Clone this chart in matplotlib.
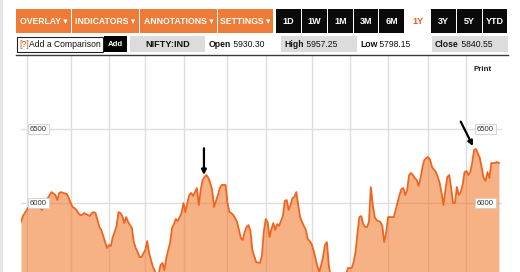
import matplotlib
matplotlib.use("Agg")
import matplotlib.pyplot as plt
from matplotlib.patches import Rectangle
import matplotlib.transforms as mtransforms

plt.rcParams['font.family'] = ['Liberation Sans', 'DejaVu Sans']

# ---- data: trading-session index and NIFTY close ----
days = [0, 1, 2, 4, 5, 6, 7, 8, 10, 11, 12, 14, 15, 16, 18, 19, 20, 21, 22, 24,
        25, 26, 27, 28, 29, 30, 31, 32, 33, 35, 36, 37, 38, 39, 40, 41, 42, 43, 45, 46,
        47, 48, 49, 50, 51, 52, 53, 54, 55, 56, 58, 59, 60, 61, 62, 63, 65, 66, 67, 69,
        70, 71, 72, 73, 74, 75, 76, 77, 78, 79, 80, 81, 82, 84, 85, 86, 87, 88, 89, 90,
        92, 93, 94, 95, 96, 97, 98, 99, 100, 101, 103, 104, 105, 107, 108, 109, 110, 111, 112, 113,
        114, 115, 116, 117, 118, 119, 120, 121, 122, 123, 125, 126, 127, 128, 129, 130, 131, 132, 133, 134,
        135, 137, 138, 139, 140, 141, 142, 143, 144, 145, 146, 147, 149, 150, 151, 152, 153, 154, 155, 156,
        157, 158, 159, 160, 161, 163, 165, 167, 169, 171, 173, 174, 175, 176, 177, 178, 179, 180, 181, 182,
        183, 184, 185, 186, 187, 188, 189, 190, 191, 192, 194, 195, 196, 197, 198, 199, 200, 201, 202, 203,
        204, 205, 206, 207, 208, 209, 210, 211, 212, 213, 214, 215, 217, 218, 219, 220, 221, 222, 223, 224,
        225, 226, 227, 228, 229, 230, 231, 232, 233, 234, 235, 236, 237, 238, 240, 241, 242, 243, 244, 245,
        246, 248, 249, 250]
close = [5872, 5912, 5932, 5973, 5993, 5986, 5980, 5973, 5966, 5953, 5993, 6034, 6054, 6074, 6054, 6020, 6068, 6074, 6068, 6061,
         6034, 6000, 5973, 5966, 5953, 5932, 5919, 5919, 5932, 5919, 5912, 5932, 5939, 5932, 5885, 5838, 5818, 5777, 5696, 5716,
         5709, 5770, 5804, 5845, 5939, 5932, 5912, 5865, 5905, 5872, 5831, 5736, 5696, 5669, 5635, 5635, 5682, 5743, 5662, 5568,
         5541, 5507, 5520, 5581, 5595, 5547, 5628, 5682, 5730, 5831, 5858, 5892, 5878, 5932, 6000, 5939, 6000, 6054, 6068, 6047,
         6101, 5986, 6088, 6155, 6176, 6189, 6169, 6135, 6088, 5973, 6054, 6101, 6122, 6122, 6000, 5939, 5932, 5919, 5899, 5872,
         5818, 5764, 5750, 5804, 5838, 5851, 5811, 5682, 5642, 5601, 5595, 5642, 5804, 5892, 5872, 5770, 5824, 5865, 5818, 5858,
         5845, 5912, 6014, 6020, 5953, 5986, 6034, 6041, 6074, 5986, 5905, 5872, 5818, 5757, 5743, 5723, 5682, 5628, 5574, 5534,
         5581, 5635, 5716, 5736, 5581, 5420, 5330, 5380, 5460, 5561, 5561, 5601, 5669, 5797, 5905, 5912, 5858, 5838, 5838, 5872,
         6108, 5986, 5905, 5885, 5878, 5872, 5845, 5736, 5797, 5905, 5905, 5905, 5953, 6007, 6054, 6095, 6101, 6054, 6088, 6189,
         6203, 6189, 6169, 6155, 6115, 6169, 6243, 6291, 6304, 6311, 6291, 6243, 6209, 6176, 6135, 6068, 5986, 6088, 6176, 6189,
         6101, 6000, 6000, 6108, 6054, 6074, 6122, 6209, 6216, 6189, 6209, 6270, 6358, 6365, 6304, 6236, 6169, 6149, 6209, 6169,
         6270, 6270, 6277, 6270]

month_starts = [3, 26, 46, 65, 85, 108, 128, 152, 172, 192, 213, 233]
y_levels = [5500, 6000, 6500]
y_labels = ['5500', '6000', '6500']

menu_labels = ['OVERLAY \u25BE', 'INDICATORS \u25BE', 'ANNOTATIONS \u25BE', 'SETTINGS \u25BE']
range_labels = ['1D', '1W', '1M', '3M', '6M', '1Y', '3Y', '5Y', 'YTD']
active_range = '1Y'
symbol = 'NIFTY:IND'
quote_names = ['Open', 'High', 'Low', 'Close']
quote_values = ['5930.30', '5957.25', '5798.15', '5840.55']

W, H = 520, 272
fig = plt.figure(figsize=(W / 100, H / 100), dpi=100)
fig.patch.set_facecolor('white')

# ---- chart axes ----
ax_l, ax_r, ax_t, ax_b = 21, 502, 55, 272
ax = fig.add_axes([ax_l / W, 1 - ax_b / H, (ax_r - ax_l) / W, (ax_b - ax_t) / H])
ax.set_xlim(0, 251.6)
ax.set_ylim(5534, 7000)
for s in ax.spines.values():
    s.set_visible(False)
ax.set_xticks([])
ax.set_yticks([])
grid_c = '#dedede'
for d in month_starts:
    ax.axvline(d, color=grid_c, lw=1.0, zorder=1)
for v in y_levels:
    ax.axhline(v, color=grid_c, lw=1.0, zorder=1)
ax.fill_between(days, close, 5000, color='#f0731f', alpha=0.55, lw=0, zorder=2)
ax.plot(days, close, color='#ee6520', lw=1.3, zorder=3)

tr = mtransforms.blended_transform_factory(ax.transAxes, ax.transData)
label_x = [(30 - ax_l) / (ax_r - ax_l), (477 - ax_l) / (ax_r - ax_l)]
box_w = 18 / (ax_r - ax_l)
for v, lab in zip(y_levels, y_labels):
    for xf in label_x:
        if v < ax.get_ylim()[0] + 60:
            # label sits below the visible area: only the top of its box shows
            ax.add_patch(Rectangle((xf - 1.2 / (ax_r - ax_l), v - 34), box_w, 68,
                                   transform=tr, fc='white', ec='#cfcfcf', lw=0.6,
                                   zorder=5, clip_on=True))
        else:
            ax.text(xf, v, lab, transform=tr, ha='left', va='center', fontsize=5.6,
                    color='#333333', zorder=5,
                    bbox=dict(boxstyle='square,pad=0.25', fc='white', ec='#cfcfcf', lw=0.6))

# arrows pointing at peaks
ax.annotate('', xy=(95.7, 6190), xytext=(95.7, 6370),
            arrowprops=dict(arrowstyle='-|>', color='black', lw=1.6, mutation_scale=7,
                            shrinkA=0, shrinkB=0), zorder=6)
ax.annotate('', xy=(236.4, 6385), xytext=(230.0, 6550),
            arrowprops=dict(arrowstyle='-|>', color='black', lw=1.6, mutation_scale=7,
                            shrinkA=0, shrinkB=0), zorder=6)

ax.text((474 - ax_l) / (ax_r - ax_l), 6899, 'Print', transform=tr, ha='left', va='center',
        fontsize=5.8, fontweight='bold', color='#222222')

# ---- header overlay (pixel coordinates) ----
hd = fig.add_axes([0, 0, 1, 1], zorder=10)
hd.set_xlim(0, W)
hd.set_ylim(H, 0)
hd.axis('off')
hd.patch.set_alpha(0)

hd.add_patch(Rectangle((0, 0), 2.5, H, fc='#e6e6e6', ec='none'))

orange = '#ef7b38'
menu_x = [(16, 71), (72, 139), (140, 217), (218, 273)]
for (x0, x1), lab in zip(menu_x, menu_labels):
    hd.add_patch(Rectangle((x0, 9), x1 - x0, 24, fc=orange, ec='none'))
    hd.text((x0 + x1) / 2, 21.5, lab, ha='center', va='center', color='white',
            fontsize=6.2, fontweight='bold')

range_x = [(276, 301), (302, 327), (328, 353), (354, 378), (379, 404), (405, 430),
           (431, 456), (457, 482), (483, 507)]
for (x0, x1), lab in zip(range_x, range_labels):
    if lab == active_range:
        hd.text((x0 + x1) / 2, 21.5, lab, ha='center', va='center', color='#f05a1e',
                fontsize=6.5, fontweight='bold')
    else:
        hd.add_patch(Rectangle((x0, 9), x1 - x0, 24, fc='#0a0a0a', ec='none'))
        hd.text((x0 + x1) / 2, 21.5, lab, ha='center', va='center', color='white',
                fontsize=6.5, fontweight='bold')

# second row
hd.add_patch(Rectangle((16.5, 36.5), 86, 15, fc='white', ec='#222222', lw=0.8))
hd.text(19, 44.2, '[?]', ha='left', va='center', color='#e8501c', fontsize=6.2)
hd.text(29, 44.2, 'Add a Comparison', ha='left', va='center', color='#111111', fontsize=6.2)
hd.add_patch(Rectangle((104, 36), 23, 16, fc='#000000', ec='none'))
hd.text(115.5, 44.2, 'Add', ha='center', va='center', color='white', fontsize=5.6,
        fontweight='bold')
hd.add_patch(Rectangle((130, 36), 75, 16, fc='#dcdcdc', ec='none'))
hd.text(167.5, 44.2, symbol, ha='center', va='center', color='#111111', fontsize=6.6,
        fontweight='bold')

quote_pos = [(209, False), (284, True), (360, False), (435, True)]
for (qx, boxed), name, val in zip(quote_pos, quote_names, quote_values):
    if boxed:
        hd.add_patch(Rectangle((qx - 3, 36), 75.5, 16, fc='#dcdcdc', ec='none'))
    t = hd.text(qx, 44.2, name, ha='left', va='center', color='#111111', fontsize=6.2,
                fontweight='bold')
    hd.annotate(' ' + val, xycoords=t, xy=(1, 0.5), va='center', ha='left',
                color='#111111', fontsize=6.2)

hd.plot([16, 508], [55, 55], color='#3a3a3a', lw=1.0)

fig.savefig('out.png', dpi=100)
